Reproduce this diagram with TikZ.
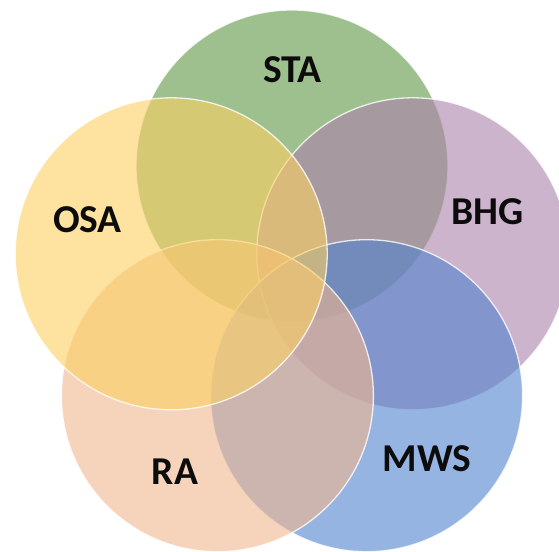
\documentclass[tikz,border=0pt]{standalone}
\usepackage{fontspec}
\setmainfont{Carlito}
\definecolor{stacol}{RGB}{92,150,68}
\definecolor{osacol}{RGB}{252,208,97}
\definecolor{bhgcol}{RGB}{172,130,172}
\definecolor{mwscol}{RGB}{80,130,205}
\definecolor{racol}{RGB}{240,182,143}
\definecolor{labcol}{RGB}{12,12,12}
\begin{document}
\begin{tikzpicture}[x=1pt,y=-1pt,
  venn/.style={circle, minimum size=312pt, inner sep=0pt, fill opacity=0.6,
    draw=white, draw opacity=0.8, line width=1.3pt},
  lab/.style={font=\fontsize{39.5}{42}\selectfont\bfseries, text=labcol, inner sep=0pt}]
\useasboundingbox (0,0) rectangle (559,551);
\fill[white] (0,0) rectangle (559,551);
\node[venn, fill=stacol] (sta) at (292,166) {};
\node[venn, fill=bhgcol] (bhg) at (412.8,253.8) {};
\node[venn, fill=mwscol] (mws) at (366.6,395.7) {};
\node[venn, fill=racol] (ra) at (217.4,395.7) {};
\node[venn, fill=osacol] (osa) at (171.2,253.8) {};
\node[lab] (lsta) at (292.5,70) {STA};
\node[lab] (losa) at (87.5,219.5) {OSA};
\node[lab] (lbhg) at (487.5,211.5) {BHG};
\node[lab] (lmws) at (427,458.5) {MWS};
\node[lab] (lra) at (175,471.5) {RA};
\end{tikzpicture}
\end{document}
